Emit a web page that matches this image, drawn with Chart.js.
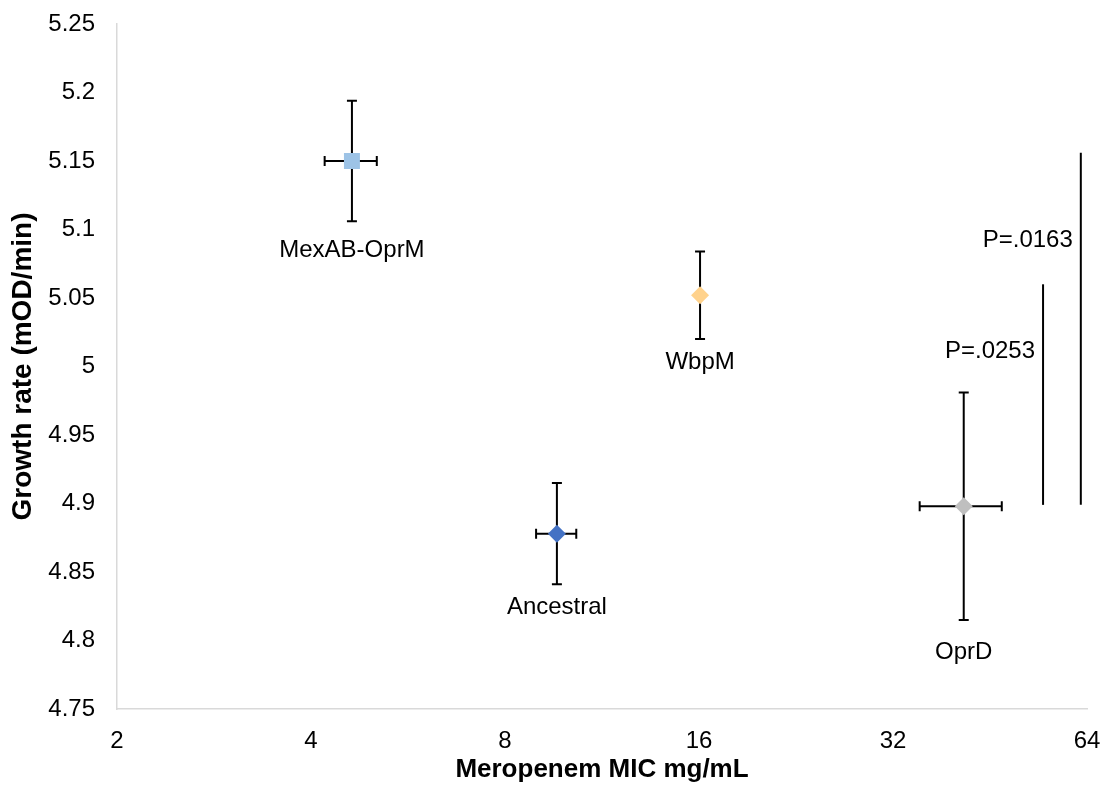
<!DOCTYPE html>
<html>
<head>
<meta charset="utf-8">
<script src="https://cdn.jsdelivr.net/npm/chart.js@4/dist/chart.umd.min.js"></script>
<style>
  html, body { margin: 0; padding: 0; background: #fff; }
  #wrap { width: 1104px; height: 785px; }
</style>
</head>
<body>
<div id="wrap"><canvas id="micChart"></canvas></div>
<script>
// strains and their values
const strains = ['MexAB-OprM', 'Ancestral', 'WbpM', 'OprD']
const micValues = [4.63, 9.63, 16.06, 41.2]
const micErr = [0.43, 0.69, 0, 6.0]
const growthValues = [5.150, 4.878, 5.052, 4.898]
const growthErr = [0.044, 0.037, 0.032, 0.083]
const markerColors = ['#9DC3E6', '#4472C4', '#FFD28C', '#BFBFBF']
const markerShapes = ['rect', 'rectRot', 'rectRot', 'rectRot']

// significance brackets
const pLabels = ['P=.0253', 'P=.0163']
const pLineX = [54.7, 62.6]
const pLineTop = [5.060, 5.156]
const pLineBottom = [4.899, 4.899]
const pLabelY = [5.011, 5.092]

// where the strain names sit (growth rate units)
const strainLabelY = [5.085, 4.824, 5.003, 4.791]

const xTicks = [2, 4, 8, 16, 32, 64]
const yTicks = [4.75, 4.8, 4.85, 4.9, 4.95, 5, 5.05, 5.1, 5.15, 5.2, 5.25]

const FONT = 'Liberation Sans, Arial, sans-serif'

const errorBars = {
  id: 'errorBars',
  beforeDatasetsDraw(chart) {
    const { ctx, scales: { x, y } } = chart
    ctx.save()
    ctx.strokeStyle = '#000'
    ctx.lineWidth = 2
    const cap = 5
    strains.forEach((s, i) => {
      const px = x.getPixelForValue(micValues[i])
      const py = y.getPixelForValue(growthValues[i])
      const top = y.getPixelForValue(growthValues[i] + growthErr[i])
      const bot = y.getPixelForValue(growthValues[i] - growthErr[i])
      ctx.beginPath()
      ctx.moveTo(px, top); ctx.lineTo(px, bot)
      ctx.moveTo(px - cap, top); ctx.lineTo(px + cap, top)
      ctx.moveTo(px - cap, bot); ctx.lineTo(px + cap, bot)
      if (micErr[i] > 0) {
        const l = x.getPixelForValue(micValues[i] - micErr[i])
        const r = x.getPixelForValue(micValues[i] + micErr[i])
        ctx.moveTo(l, py); ctx.lineTo(r, py)
        ctx.moveTo(l, py - cap); ctx.lineTo(l, py + cap)
        ctx.moveTo(r, py - cap); ctx.lineTo(r, py + cap)
      }
      ctx.stroke()
    })
    ctx.restore()
  },
  afterDatasetsDraw(chart) {
    const { ctx, scales: { x, y } } = chart
    ctx.save()
    ctx.fillStyle = '#000'
    ctx.font = '24px ' + FONT
    ctx.textBaseline = 'middle'
    ctx.textAlign = 'center'
    strains.forEach((s, i) => {
      ctx.fillText(s, x.getPixelForValue(micValues[i]), y.getPixelForValue(strainLabelY[i]))
    })
    ctx.textAlign = 'right'
    pLabels.forEach((p, i) => {
      ctx.fillText(p, x.getPixelForValue(pLineX[i]) - 8, y.getPixelForValue(pLabelY[i]))
    })
    ctx.restore()
  }
}

const datasets = strains.map((s, i) => ({
  label: s,
  data: [{ x: micValues[i], y: growthValues[i] }],
  pointStyle: markerShapes[i],
  pointRadius: markerShapes[i] === 'rect' ? 11.3 : 9,
  pointHoverRadius: markerShapes[i] === 'rect' ? 11.3 : 9,
  backgroundColor: markerColors[i],
  borderColor: markerColors[i],
  borderWidth: 0
}))

pLabels.forEach((p, i) => {
  datasets.push({
    type: 'line',
    label: p,
    data: [{ x: pLineX[i], y: pLineBottom[i] }, { x: pLineX[i], y: pLineTop[i] }],
    borderColor: '#000',
    borderWidth: 2,
    pointRadius: 0,
    showLine: true,
    fill: false
  })
})

new Chart(document.getElementById('micChart'), {
  type: 'scatter',
  data: { datasets },
  options: {
    responsive: true,
    maintainAspectRatio: false,
    animation: false,
    layout: { padding: { top: 24, right: 17, left: 0, bottom: 0 } },
    plugins: {
      legend: { display: false },
      tooltip: { enabled: false }
    },
    scales: {
      x: {
        type: 'logarithmic',
        min: 2,
        max: 64,
        afterBuildTicks: axis => { axis.ticks = xTicks.map(v => ({ value: v })) },
        afterFit: axis => {
          axis.height = 76
          axis.paddingLeft = 0
          axis.paddingRight = 0
        },
        grid: { display: false, drawTicks: false },
        border: { display: true, color: '#D9D9D9', width: 1.5 },
        ticks: {
          color: '#000',
          font: { family: FONT, size: 24 },
          padding: 18,
          maxRotation: 0,
          autoSkip: false,
          callback: v => String(v)
        },
        title: {
          display: true,
          text: 'Meropenem MIC mg/mL',
          color: '#000',
          font: { family: FONT, size: 26, weight: 'bold' },
          padding: { top: 0, bottom: 0 }
        }
      },
      y: {
        min: 4.75,
        max: 5.25,
        afterBuildTicks: axis => { axis.ticks = yTicks.map(v => ({ value: v })) },
        afterFit: axis => {
          axis.width = 117
          axis.paddingTop = 0
          axis.paddingBottom = 0
        },
        grid: { display: false, drawTicks: false },
        border: { display: true, color: '#D9D9D9', width: 1.5 },
        ticks: {
          color: '#000',
          font: { family: FONT, size: 24 },
          padding: 22,
          callback: v => String(+v.toFixed(2))
        },
        title: {
          display: true,
          text: 'Growth rate (mOD/min)',
          color: '#000',
          font: { family: FONT, size: 28, weight: 'bold' },
          padding: { top: 6, bottom: 0 }
        }
      }
    }
  },
  plugins: [errorBars]
})
</script>
</body>
</html>
